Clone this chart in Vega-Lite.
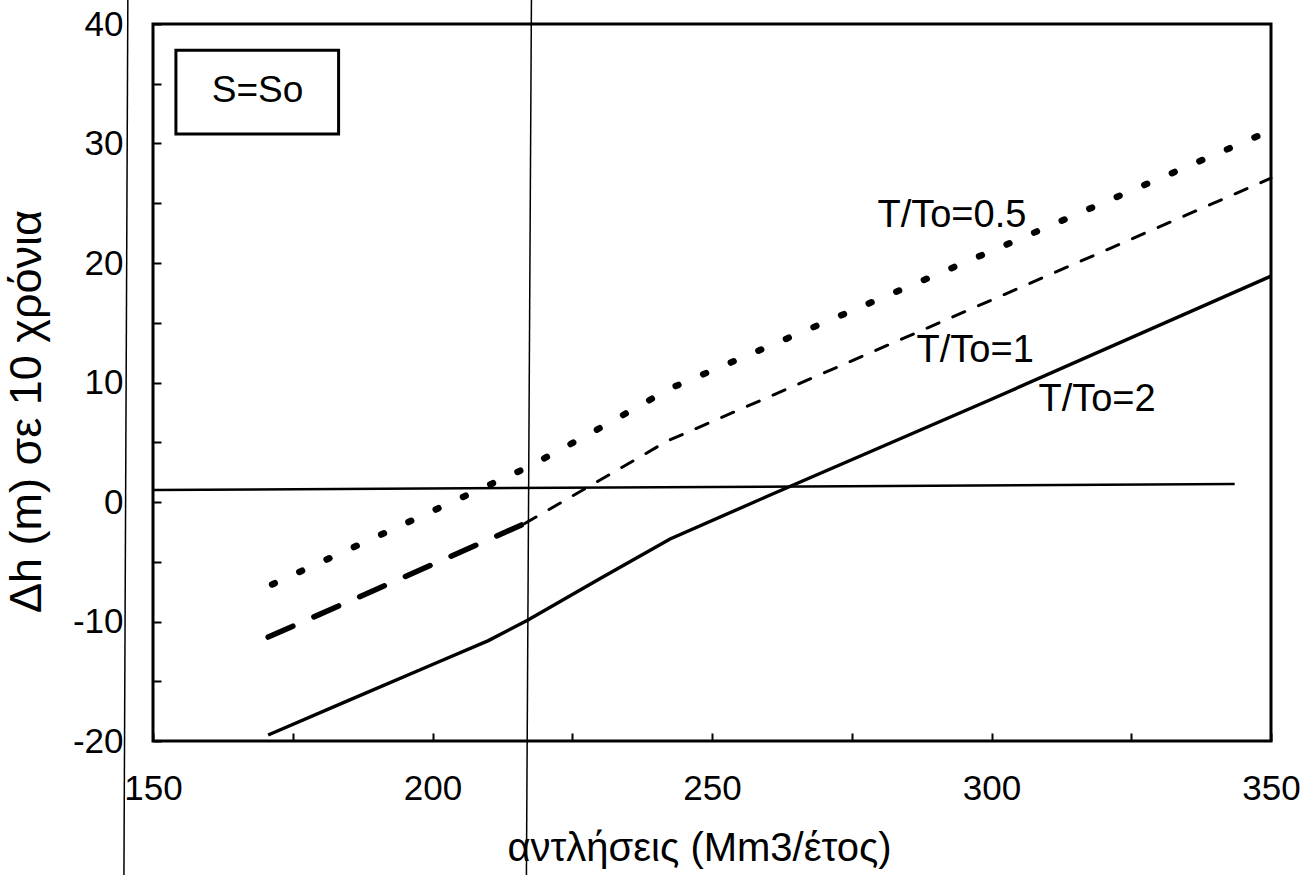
{
  "$schema": "https://vega.github.io/schema/vega-lite/v6.json",
  "autosize": "none",
  "width": 1118,
  "height": 717,
  "padding": {"left": 153, "top": 24, "right": 41, "bottom": 134},
  "background": "white",
  "config": {
    "view": {"stroke": "black", "strokeWidth": 3},
    "font": "Liberation Sans",
    "axis": {"grid": false, "domain": false, "labelColor": "black", "titleColor": "black", "tickColor": "black", "labelFont": "Liberation Sans", "titleFont": "Liberation Sans", "titleFontWeight": "normal", "labelFontSize": 35, "tickWidth": 2, "labelFlush": false, "labelOverlap": false, "labelBound": false}
  },
  "datasets": {
    "curves": [
      {"series": "T/To=2", "q": 170.6, "dh": -19.5},
      {"series": "T/To=2", "q": 185, "dh": -16.6},
      {"series": "T/To=2", "q": 200, "dh": -13.6},
      {"series": "T/To=2", "q": 210, "dh": -11.6},
      {"series": "T/To=2", "q": 217, "dh": -9.9},
      {"series": "T/To=2", "q": 230, "dh": -6.4},
      {"series": "T/To=2", "q": 242.5, "dh": -3.1},
      {"series": "T/To=2", "q": 260, "dh": 0.5},
      {"series": "T/To=2", "q": 300, "dh": 8.6},
      {"series": "T/To=2", "q": 350, "dh": 18.9},
      {"series": "T/To=0.5", "q": 171.3, "dh": -6.9},
      {"series": "T/To=0.5", "q": 190, "dh": -2.9},
      {"series": "T/To=0.5", "q": 217, "dh": 2.9},
      {"series": "T/To=0.5", "q": 230, "dh": 6.2},
      {"series": "T/To=0.5", "q": 242.5, "dh": 9.5},
      {"series": "T/To=0.5", "q": 300, "dh": 21.0},
      {"series": "T/To=0.5", "q": 350, "dh": 31.1},
      {"series": "T/To=1", "q": 170.6, "dh": -11.3},
      {"series": "T/To=1", "q": 190, "dh": -7.3},
      {"series": "T/To=1", "q": 216.5, "dh": -1.8},
      {"series": "T/To=1", "q": 228, "dh": 1.3},
      {"series": "T/To=1", "q": 242, "dh": 5.1},
      {"series": "T/To=1", "q": 300, "dh": 16.9},
      {"series": "T/To=1", "q": 350, "dh": 27.1}
    ],
    "labels": [
      {"label": "T/To=0.5", "q": 279.6, "dh": 23.0},
      {"label": "T/To=1", "q": 286.6, "dh": 11.7},
      {"label": "T/To=2", "q": 308.4, "dh": 7.6}
    ]
  },
  "encoding": {
    "x": {"field": "q", "type": "quantitative", "scale": {"domain": [150, 350], "nice": false, "zero": false},
      "axis": {"values": [150, 175, 200, 225, 250, 275, 300, 325, 350], "labelExpr": "datum.value % 50 === 0 ? datum.label : ''", "tickSize": -8, "labelPadding": 38, "title": "αντλήσεις (Mm3/έτος)", "titleFontSize": 40, "titleX": 546, "titleY": 119, "titleBaseline": "alphabetic"}},
    "y": {"field": "dh", "type": "quantitative", "scale": {"domain": [-20, 40], "nice": false, "zero": false},
      "axis": {"values": [-20, -15, -10, -5, 0, 5, 10, 15, 20, 25, 30, 35, 40], "labelExpr": "datum.value % 10 === 0 ? replace(datum.label, '−', '-') : ''", "tickSize": -8, "labelPadding": 38, "title": "Δh (m) σε 10 χρόνια", "titleFontSize": 45, "titleX": -113, "titleY": 387, "titleBaseline": "alphabetic"}}
  },
  "layer": [
    {
      "data": {"values": [{"q": 145.5, "q2": 144.8, "dh": 42.2, "dh2": -31.3}, {"q": 217.7, "q2": 216.8, "dh": 42.2, "dh2": -31.3}]},
      "mark": {"type": "rule", "color": "black", "strokeWidth": 1.5},
      "encoding": {"x2": {"field": "q2"}, "y2": {"field": "dh2"}}
    },
    {
      "data": {"values": [{"q": 150, "q2": 343.5, "dh": 1.0, "dh2": 1.5}]},
      "mark": {"type": "rule", "color": "black", "strokeWidth": 2.5},
      "encoding": {"x2": {"field": "q2"}, "y2": {"field": "dh2"}}
    },
    {
      "data": {"values": [{"q": 154.1, "q2": 183.2, "dh": 37.8, "dh2": 30.8}]},
      "mark": {"type": "rect", "fill": "white", "stroke": "black", "strokeWidth": 3},
      "encoding": {"x2": {"field": "q2"}, "y2": {"field": "dh2"}}
    },
    {
      "data": {"values": [{"label": "S=So", "q": 168.7, "dh": 33.5}]},
      "mark": {"type": "text", "font": "Liberation Sans", "fontSize": 37, "align": "center", "baseline": "alphabetic", "color": "black"},
      "encoding": {"text": {"field": "label"}}
    },
    {
      "data": {"name": "curves"},
      "transform": [{"filter": "datum.series === 'T/To=2'"}],
      "mark": {"type": "line", "color": "black", "strokeWidth": 3.4},
      "encoding": {"order": {"field": "q"}}
    },
    {
      "data": {"name": "curves"},
      "transform": [{"filter": "datum.series === 'T/To=0.5'"}],
      "mark": {"type": "line", "color": "black", "strokeWidth": 6.5, "strokeCap": "round", "strokeDash": [3, 27]},
      "encoding": {"order": {"field": "q"}}
    },
    {
      "data": {"name": "curves"},
      "transform": [{"filter": "datum.series === 'T/To=1' && datum.q <= 216.5"}],
      "mark": {"type": "line", "color": "black", "strokeWidth": 5.5, "strokeCap": "round", "strokeDash": [27, 23]},
      "encoding": {"order": {"field": "q"}}
    },
    {
      "data": {"name": "curves"},
      "transform": [{"filter": "datum.series === 'T/To=1' && datum.q >= 216.5"}],
      "mark": {"type": "line", "color": "black", "strokeWidth": 3, "strokeCap": "round", "strokeDash": [13, 15]},
      "encoding": {"order": {"field": "q"}}
    },
    {
      "data": {"name": "labels"},
      "mark": {"type": "text", "font": "Liberation Sans", "fontSize": 38, "align": "left", "baseline": "alphabetic", "color": "black"},
      "encoding": {"text": {"field": "label"}}
    }
  ]
}
